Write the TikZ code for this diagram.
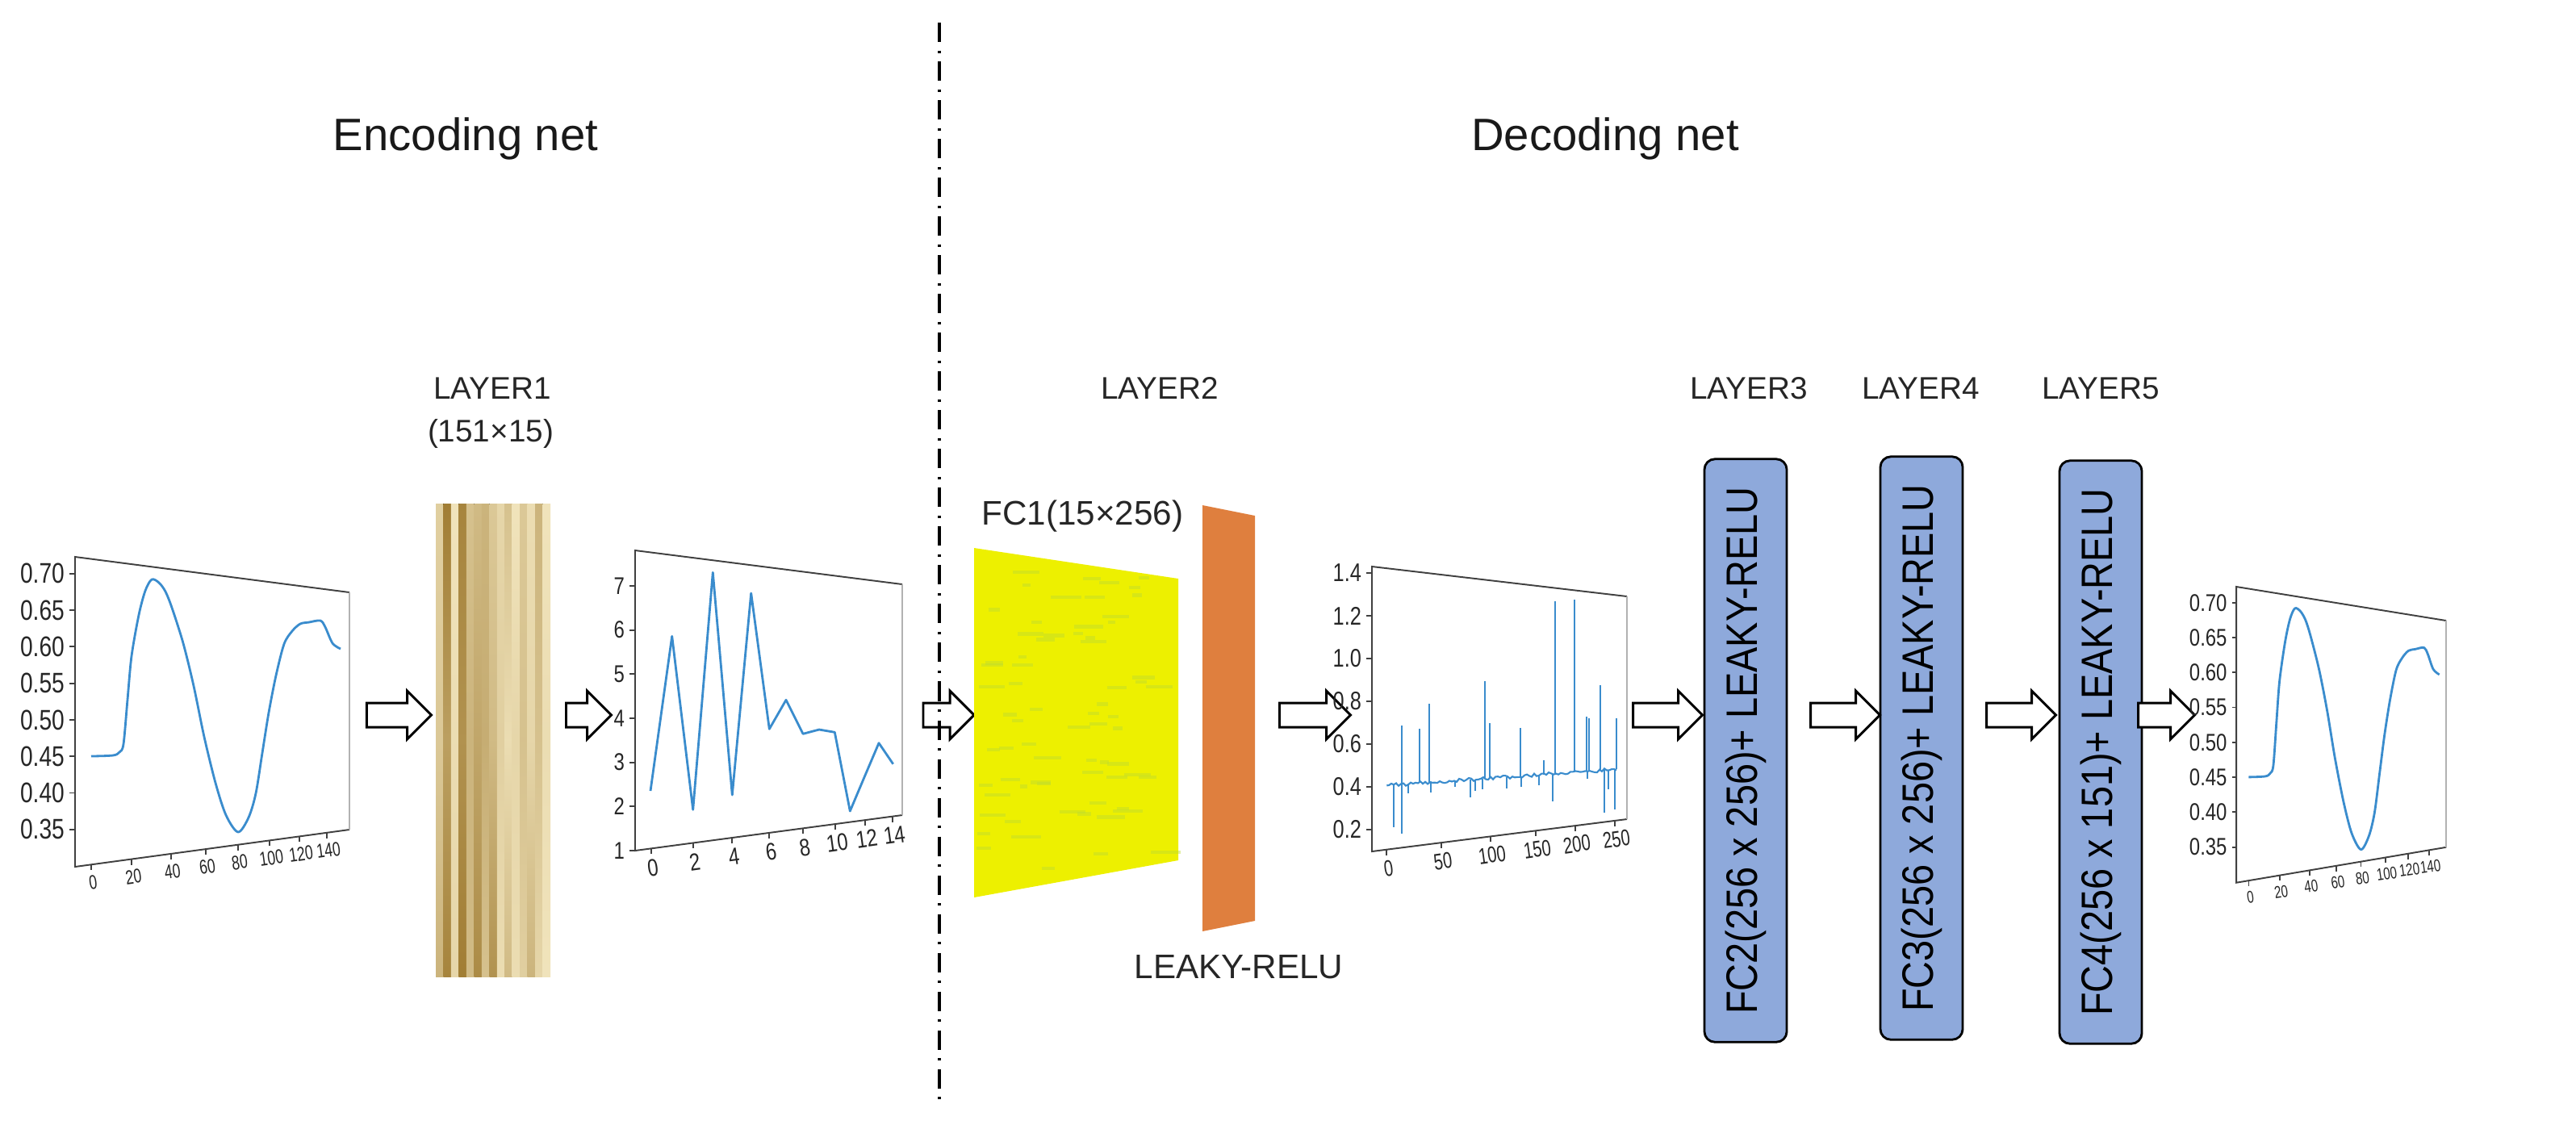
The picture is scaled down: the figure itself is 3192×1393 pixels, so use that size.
\documentclass[tikz,border=0pt]{standalone}
\usepackage{fontspec}
\setmainfont{Liberation Sans}
\usepackage{graphicx}
\usetikzlibrary{shapes.arrows}

\definecolor{plotblue}{RGB}{58,140,205}
\definecolor{boxblue}{RGB}{142,169,219}
\definecolor{fcyellow}{RGB}{237,240,0}
\definecolor{fcstreak}{RGB}{190,220,50}
\definecolor{reluorange}{RGB}{223,127,62}
\definecolor{hmlight}{RGB}{251,241,205}
\definecolor{hmdark}{RGB}{145,105,25}

\newcommand{\narrow}[1]{\scalebox{0.8}[1]{#1}}
\newcommand{\xnarrow}[1]{\scalebox{0.72}[1]{#1}}
\newcommand{\fcfont}{\fontsize{15.5}{18}\selectfont}

% input / output signal, local coordinates from the top left corner of the frame
\newcommand{\waveplot}[3]{%
 \draw[axisline] (340,44) -- (0,0) -- (0,384) -- (340,338);
 \draw[edgeline] (340,44) -- (340,338);
 \foreach \lab [count=\i from 0] in {0.70,0.65,0.60,0.55,0.50,0.45,0.40,0.35}
  \draw[tickline] (0,{20.7+45.3*\i}) -- ++(-7,0) node[ylab, font=\fontsize{#1}{#1}\selectfont] (#3y\i) {\narrow{\lab}};
 \foreach \tx/\lab in {20.3/0,70.3/20,118.7/40,162/60,202/80,241.3/100,278/120,312/140}
  \draw[tickline] (\tx,{384-46*\tx/340}) -- ++(0,7) node[xlab, font=\fontsize{#2}{#2}\selectfont] (#3x\lab) {\xnarrow{\lab}};
 \draw[curve] plot[smooth, tension=0.5] coordinates {(20,247) (47,246) (55,242) (60,232) (65,177)
  (70,123) (79,72) (87,42) (95,28) (104,32) (112,43) (120,63) (134,107) (147,160) (160,223)
  (174,280) (187,320) (202,341) (215,323) (224,293) (232,243) (240,193) (249,147) (259,108)
  (269,92) (279,83) (290,81) (304,79) (310,87) (319,107) (329,114)};
}

\tikzset{
 title/.style={font=\fontsize{16}{19}\selectfont, text=black!90},
 layerlab/.style={font=\fontsize{11}{13}\selectfont, text=black!85},
 axisline/.style={draw=black!75, line width=0.55pt},
 edgeline/.style={draw=black!30, line width=0.55pt},
 tickline/.style={draw=black!75, line width=0.5pt},
 curve/.style={draw=plotblue, line width=0.8pt, line join=round},
 spike/.style={draw=plotblue, line width=0.6pt},
 streak/.style={draw=fcstreak, line width=1.2pt, opacity=0.45},
 ylab/.style={anchor=east, inner sep=1.5pt, text=black!85},
 xlab/.style={anchor=north, rotate=8, inner sep=1.5pt, text=black!85},
 blockarrow/.style={single arrow, draw=black, line width=0.85pt, fill=white,
  inner xsep=0pt, inner ysep=0.135cm, minimum width=0pt,
  single arrow head extend=0.15cm, single arrow tip angle=90, minimum height=#1},
 blockarrow/.default=0.8cm,
 fcbox/.style={draw=black, line width=0.8pt, fill=boxblue, rounded corners=0.13cm,
  minimum width=1.02cm, minimum height=7.22cm, inner sep=0pt},
 divider/.style={line width=1.1pt, dash pattern=on 0.24cm off 0.105cm on 0.03cm off 0.105cm}
}

\begin{document}
\begin{tikzpicture}[x=0.01cm, y=-0.01cm]
\useasboundingbox (0,0) rectangle (3192,1393);

\node[title] (enc) at (577,172) {Encoding net};
\node[title] (dec) at (1989,172) {Decoding net};

% input signal
\begin{scope}[shift={(93,690)}]
 \waveplot{10}{7}{in}
\end{scope}

\node[blockarrow=0.8cm] (ar1) at (487,886) {};

% LAYER1
\node[layerlab] (lay1) at (610,481) {LAYER1};
\node[layerlab] (dim1) at (608,537) {(151×15)};
\foreach \tp/\md/\bt [count=\c from 0] in {25/30/45,85/60/80,10/15/20,80/70/85,35/45/40,40/55/75,
  45/50/35,30/40/70,20/25/15,35/15/40,10/20/15,30/35/25,15/20/45,45/35/20,10/15/10}
 \fill[top color=hmdark!\tp!hmlight, bottom color=hmdark!\bt!hmlight, middle color=hmdark!\md!hmlight]
  ({540+\c*9.47},624) rectangle ++(9.6,586);

\node[blockarrow=0.56cm] (ar2) at (722,886) {};

% latent code
\begin{scope}[shift={(787,682)}]
 \draw[axisline] (331,42) -- (0,0) -- (0,372) -- (331,328);
 \draw[edgeline] (331,42) -- (331,328);
 \foreach \lab [count=\i from 0] in {7,6,5,4,3,2,1}
  \draw[tickline] (0,{44+54.67*\i}) -- ++(-7,0) node[ylab, font=\fontsize{8.5}{9}\selectfont] (ly\lab) {\narrow{\lab}};
 \foreach \tx/\lab in {19.7/0,71.7/2,120.3/4,166.3/6,208/8,248/10,284.7/12,319/14}
  \draw[tickline] (\tx,{372-44*\tx/331}) -- ++(0,7) node[xlab, font=\fontsize{8.5}{9}\selectfont] (lx\lab) {\narrow{\lab}};
 \draw[curve] (19,298) -- (45.7,106.3) -- (71.7,321.3) -- (96.3,27.3) -- (120.3,303) -- (143.7,53)
  -- (166.3,221.3) -- (187,185.3) -- (208,227.3) -- (228,222) -- (247.3,225.3) -- (266.3,323)
  -- (284,281) -- (302,238.7) -- (319.7,264.7);
\end{scope}

\node[blockarrow=0.63cm] (ar3) at (1168,886) {};

% LAYER2
\node[layerlab] (lay2) at (1437,481) {LAYER2};
\node[anchor=west, font=\fontsize{12}{14}\selectfont, text=black!85] (fc1lab) at (1204,640) {FC1(15×256)};
\fill[fcyellow] (1207,679) -- (1460,717) -- (1460,1066) -- (1207,1112) -- cycle;
\pgfmathsetseed{11}
\foreach \k in {1,...,70}{
 \pgfmathsetmacro\su{rnd}
 \pgfmathsetmacro\sv{rnd}
 \pgfmathsetmacro\sl{8+30*rnd}
 \draw[streak] ({1210+\su*220},{684+33*\su+\sv*(420-73*\su)}) -- ++(\sl,0);
}
\fill[reluorange] (1490,626) -- (1555,639) -- (1555,1141) -- (1490,1154) -- cycle;
\node[font=\fontsize{12}{14}\selectfont, text=black!85] (relulab) at (1535,1198) {LEAKY-RELU};

\node[blockarrow=0.88cm] (ar4) at (1622,886) {};

% output of LAYER2
\begin{scope}[shift={(1700,702)}]
 \draw[axisline] (316,37) -- (0,0) -- (0,353) -- (316,313);
 \draw[edgeline] (316,37) -- (316,313);
 \foreach \lab [count=\i from 0] in {1.4,1.2,1.0,0.8,0.6,0.4,0.2}
  \draw[tickline] (0,{8+52.95*\i}) -- ++(-7,0) node[ylab, font=\fontsize{9}{10}\selectfont] (sy\i) {\narrow{\lab}};
 \foreach \tx/\lab in {18.3/0,85.7/50,146.7/100,202.7/150,251.7/200,300.7/250}
  \draw[tickline] (\tx,{353-40*\tx/316}) -- ++(0,7) node[xlab, font=\fontsize{8}{9}\selectfont] (sx\lab) {\xnarrow{\lab}};
 \pgfmathsetseed{5}
 \draw[spike] (18.3,271.3) \foreach \t in {21,24,...,303} { -- (\t,{271.3-20*(\t-18.3)/285+2.2*rand}) };
 \foreach \sx/\sy in {27.3/323,36.7/331.3,37.3/197.3,45/281.3,59.3/201.3,71/169.7,72.7/279.7,
   102.7/273,122.3/286.3,128.3/278,136.7/276.3,140/142.3,146/194,166.7/274.7,184.3/199.7,185/273,
   206.7/271.3,213.3/239.7,224/291.3,226.7/43,251/41.3,266/185.7,267.3/263,269.3/188,282.7/147.3,
   288.3/304.7,293.3/276.3,300.7/300.7,303.3/188}
  \draw[spike] (\sx,{271.3-20*(\sx-18.3)/285}) -- (\sx,\sy);
\end{scope}

\node[blockarrow=0.86cm] (ar5) at (2059,886) {};

% LAYER3 to LAYER5
\node[layerlab] (lay3) at (2167,481) {LAYER3};
\node[layerlab] (lay4) at (2380,481) {LAYER4};
\node[layerlab] (lay5) at (2603,481) {LAYER5};
\node[fcbox] (fc2) at (2163,930) {\rotatebox{90}{\fcfont\scalebox{0.86}[1]{FC2(256 x 256)+ LEAKY-RELU}}};
\node[fcbox] (fc3) at (2381,927) {\rotatebox{90}{\fcfont\scalebox{0.86}[1]{FC3(256 x 256)+ LEAKY-RELU}}};
\node[fcbox] (fc4) at (2603,932) {\rotatebox{90}{\fcfont\scalebox{0.86}[1]{FC4(256 x 151)+ LEAKY-RELU}}};

\node[blockarrow=0.86cm] (ar6) at (2279,886) {};
\node[blockarrow=0.86cm] (ar7) at (2497,886) {};
\node[blockarrow=0.7cm] (ar8) at (2677,886) {};

% reconstructed signal
\begin{scope}[shift={(2771,727)}, xscale=0.765, yscale=0.955]
 \waveplot{8.5}{6}{out}
\end{scope}

\draw[divider] (1164,28) -- (1164,1365);

\end{tikzpicture}
\end{document}
